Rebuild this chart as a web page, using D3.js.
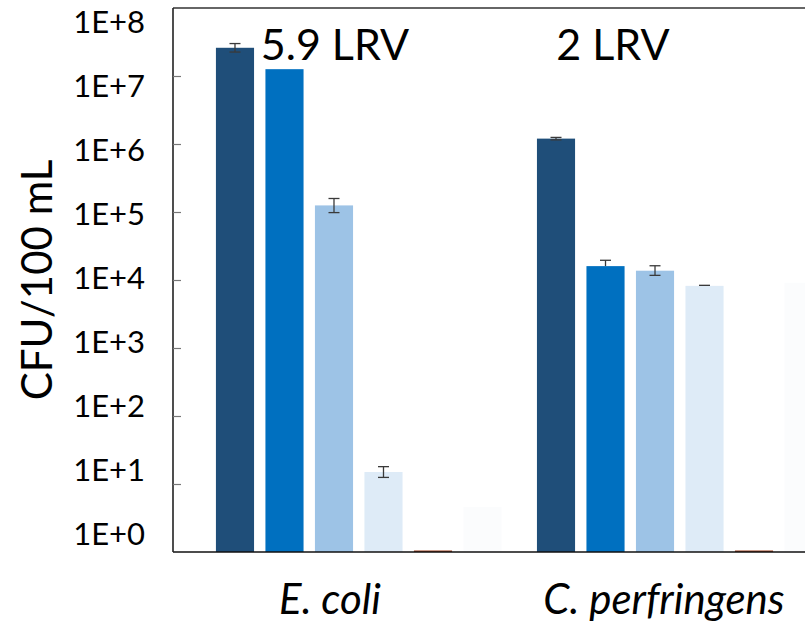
<!DOCTYPE html>
<html>
<head>
<meta charset="utf-8">
<script src="https://cdn.jsdelivr.net/npm/d3@7"></script>
<style>
  html, body { margin: 0; padding: 0; background: #fff; }
  svg { display: block; }
  text { font-family: Lato, "Open Sans", sans-serif; fill: #000; }
</style>
</head>
<body>
<svg id="chart" width="805" height="626"></svg>
<script>
// ---- data ----
const groups = ["E. coli", "C. perfringens"];
const series = ["s1", "s2", "s3", "s4", "s5", "s6"];
const seriesColors = ["#1F4E79", "#0070C0", "#9DC3E6", "#DEEBF7", "#9A3A18", "#FBFCFD"];
// values (CFU/100 mL) per group, per series
const ecoliValues = [2.6e7, 1.26e7, 1.25e5, 15, 1, 4.6];
const cperfValues = [1.2e6, 1.6e4, 1.37e4, 8.2e3, 1, 9.1e3];
const ecoliErrLow  = [0.35e7, 0, 0.27e5, 2.5, 0, 0];
const ecoliErrHigh = [0.4e7, 0, 0.33e5, 3, 0, 0];
const cperfErrLow  = [0.05e6, 0, 0.2e4, 0, 0, 0];
const cperfErrHigh = [0.05e6, 0.35e4, 0.25e4, 0.15e3, 0, 0];
const lrvLabels = ["5.9 LRV", "2 LRV"];
const tickValues = [1, 1e1, 1e2, 1e3, 1e4, 1e5, 1e6, 1e7, 1e8];
const tickLabels = ["1E+0", "1E+1", "1E+2", "1E+3", "1E+4", "1E+5", "1E+6", "1E+7", "1E+8"];
const yTitle = "CFU/100 mL";

(function () {
const valuesByGroup = [ecoliValues, cperfValues];
const errLowByGroup = [ecoliErrLow, cperfErrLow];
const errHighByGroup = [ecoliErrHigh, cperfErrHigh];

// ---- layout ----
const svg = d3.select("#chart");
const pLeft = 173, pTop = 8, pBottom = 552, pRight = 805;

const y = d3.scaleLog().domain([1, 1e8]).range([pBottom, pTop]);
// tick labels in the original are spread slightly differently from the tick marks
const yLab = d3.scaleLog().domain([1, 1e8]).range([535, 23]);

const x0 = d3.scaleBand().domain(groups).range([pLeft, 865.5])
  .paddingInner(0.0748).paddingOuter(0.116);
const x1 = d3.scaleBand().domain(series).range([0, x0.bandwidth()])
  .paddingInner(0.23).paddingOuter(0.115);

// ---- bars ----
const data = [];
groups.forEach((g, gi) => {
  series.forEach((s, si) => {
    data.push({g, s, si, v: valuesByGroup[gi][si],
      lo: errLowByGroup[gi][si], hi: errHighByGroup[gi][si]});
  });
});

const gBars = svg.append("g");
gBars.selectAll("rect").data(data).join("rect")
  .attr("x", d => x0(d.g) + x1(d.s))
  .attr("width", x1.bandwidth())
  .attr("y", d => d.v <= 1 ? y(1) - 1.5 : y(d.v))
  .attr("height", d => d.v <= 1 ? 1.5 : y(1) - y(d.v))
  .attr("fill", d => seriesColors[d.si]);

// ---- error bars ----
const errs = data.filter(d => d.lo > 0 || d.hi > 0);
const gErr = svg.append("g").attr("stroke", "#3a3a3a").attr("stroke-width", 1.3).attr("fill", "none");
errs.forEach(d => {
  const cx = x0(d.g) + x1(d.s) + x1.bandwidth() / 2;
  const yHi = y(d.v + d.hi), yLo = y(d.v - d.lo);
  gErr.append("line").attr("x1", cx).attr("x2", cx).attr("y1", yHi).attr("y2", yLo);
  if (d.hi > 0) gErr.append("line").attr("x1", cx - 5.5).attr("x2", cx + 5.5).attr("y1", yHi).attr("y2", yHi);
  if (d.lo > 0) gErr.append("line").attr("x1", cx - 5.5).attr("x2", cx + 5.5).attr("y1", yLo).attr("y2", yLo);
});

// ---- frame ----
svg.append("line").attr("x1", pLeft).attr("x2", pRight).attr("y1", pTop).attr("y2", pTop)
  .attr("stroke", "#333").attr("stroke-width", 1.6);
svg.append("line").attr("x1", pLeft).attr("x2", pRight).attr("y1", pBottom).attr("y2", pBottom)
  .attr("stroke", "#111").attr("stroke-width", 1.6);
svg.append("line").attr("x1", pLeft).attr("x2", pLeft).attr("y1", pTop).attr("y2", pBottom)
  .attr("stroke", "#222").attr("stroke-width", 1.6);

// tick marks (inside)
const tickAxis = svg.append("g").attr("transform", `translate(${pLeft},0)`)
  .call(d3.axisRight(y).tickValues(tickValues.slice(1, 8)).tickSize(8).tickFormat(""));
tickAxis.select(".domain").remove();
tickAxis.selectAll(".tick line").attr("stroke", "#777").attr("stroke-width", 1.2);

// tick labels
const labAxis = svg.append("g").attr("transform", `translate(145,0)`)
  .call(d3.axisLeft(yLab).tickValues(tickValues).tickSize(0).tickPadding(0)
    .tickFormat((d, i) => tickLabels[i]));
labAxis.select(".domain").remove();
labAxis.selectAll("text").attr("font-size", 31).attr("font-family", "Lato, 'Open Sans', sans-serif")
  .attr("fill", "#000");

// y title
svg.append("text")
  .attr("transform", "translate(52,280) rotate(-90)")
  .attr("text-anchor", "middle")
  .attr("font-size", 42)
  .text(yTitle);

// category labels
const labelX = d3.scaleOrdinal().domain(groups).range([330, 664]);
svg.append("g").selectAll("text").data(groups).join("text")
  .attr("x", d => labelX(d))
  .attr("y", 614)
  .attr("text-anchor", "middle")
  .attr("font-size", 42)
  .attr("font-style", "italic")
  .text(d => d);

// LRV annotations
const lrvX = d3.scaleOrdinal().domain(groups).range([335, 613]);
svg.append("g").selectAll("text").data(groups).join("text")
  .attr("x", d => lrvX(d))
  .attr("y", 60)
  .attr("text-anchor", "middle")
  .attr("font-size", 43)
  .text((d, i) => lrvLabels[i]);
})();
</script>
</body>
</html>
